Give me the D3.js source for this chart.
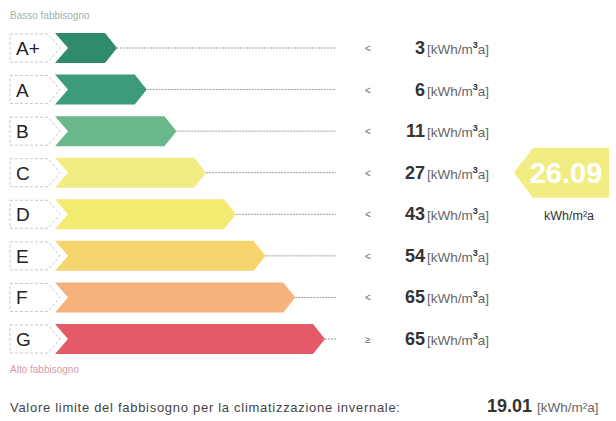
<!DOCTYPE html>
<html>
<head>
<meta charset="utf-8">
<script src="https://cdn.jsdelivr.net/npm/d3@7"></script>
<style>
  body { margin:0; background:#fff; }
  svg { font-family: "Liberation Sans", Arial, sans-serif; }
</style>
</head>
<body>
<svg id="chart"></svg>
<script>
// classi energetiche
const classes = ["A+", "A", "B", "C", "D", "E", "F", "G"];
const limits = [3, 6, 11, 27, 43, 54, 65, 65];
const signs = ["<", "<", "<", "<", "<", "<", "<", "\u2265"];
const colors = ["#2f8a6e", "#3d9b79", "#6bb78c", "#f1ed82", "#f3ea72", "#f6d46e", "#f5b27c", "#e55a68"];
const current = 26.09;
const currentClass = "C";
const limitValue = 19.01;

const width = 616, height = 421;
const svg = d3.select("#chart").attr("width", width).attr("height", height);

const yc = d3.scalePoint().domain(classes).range([48, 339]);
const tip = d3.scaleLinear().domain([0, classes.length - 1]).range([117, 325]);
const barH = 30;

svg.append("text").attr("x", 10).attr("y", 19).attr("font-size", 10)
  .attr("fill", "#9bb5a8").text("Basso fabbisogno");

const row = svg.selectAll("g.row").data(classes).join("g")
  .attr("class", "row")
  .attr("transform", d => "translate(0," + (yc(d) - barH / 2) + ")");

// label box
row.append("path")
  .attr("d", "M10,1 L48,1 L60," + barH / 2 + " L48," + (barH - 1) + " L10," + (barH - 1) + " Z")
  .attr("fill", "#fff").attr("stroke", "#c8c8c8").attr("stroke-width", 1)
  .attr("stroke-dasharray", "3,2");

row.append("text").attr("x", 16).attr("y", barH / 2 + 7)
  .attr("font-size", 19).attr("fill", "#222").text(d => d);

// arrow bar
row.append("path")
  .attr("d", (d, i) => {
    const t = tip(i), h = barH;
    return "M55,0 L" + (t - 12) + ",0 L" + t + "," + h / 2 + " L" + (t - 12) + "," + h +
      " L55," + h + " L68," + h / 2 + " Z";
  })
  .attr("fill", (d, i) => colors[i]);

// dotted line
row.append("line")
  .attr("x1", (d, i) => tip(i)).attr("x2", 336)
  .attr("y1", barH / 2).attr("y2", barH / 2)
  .attr("stroke", "#9a9aa8").attr("stroke-width", 1).attr("stroke-dasharray", "2,1");

row.append("text").attr("x", 365).attr("y", barH / 2 + 4)
  .attr("font-size", 10).attr("fill", "#666").text((d, i) => signs[i]);

row.append("text").attr("x", 425).attr("y", barH / 2 + 6)
  .attr("text-anchor", "end").attr("font-size", 18).attr("font-weight", "bold")
  .attr("fill", "#333").text((d, i) => limits[i]);

const unit = row.append("text").attr("x", 427).attr("y", barH / 2 + 6)
  .attr("font-size", 13.5).attr("fill", "#666");
unit.append("tspan").text("[kWh/m");
unit.append("tspan").attr("dy", -6).attr("font-size", 9).attr("font-weight", "bold").attr("fill", "#333").text("3");
unit.append("tspan").attr("dy", 6).text("a]");

svg.append("text").attr("x", 10).attr("y", 373).attr("font-size", 10)
  .attr("fill", "#d89aa8").text("Alto fabbisogno");

// indicatore valore attuale
const cy = yc(currentClass);
const ci = classes.indexOf(currentClass);
svg.append("path")
  .attr("d", "M514," + cy + " L533," + (cy - 25) + " L609," + (cy - 25) + " L609," + (cy + 25) +
    " L533," + (cy + 25) + " Z")
  .attr("fill", colors[ci]);
svg.append("text").attr("x", 566).attr("y", cy + 10).attr("text-anchor", "middle")
  .attr("font-size", 29).attr("font-weight", "bold").attr("fill", "#fff")
  .text(d3.format(".2f")(current));
svg.append("text").attr("x", 569).attr("y", cy + 47).attr("text-anchor", "middle")
  .attr("font-size", 12.5).attr("fill", "#333").text("kWh/m\u00b2a");

// valore limite
svg.append("text").attr("x", 10).attr("y", 412).attr("font-size", 13)
  .attr("textLength", 390).attr("lengthAdjust", "spacing")
  .attr("fill", "#444").text("Valore limite del fabbisogno per la climatizzazione invernale:");
const lv = svg.append("text").attr("x", 487).attr("y", 412).attr("fill", "#333");
lv.append("tspan").attr("font-size", 18).attr("font-weight", "bold").text(d3.format(".2f")(limitValue));
lv.append("tspan").attr("dx", 5).attr("font-size", 13.5).attr("fill", "#666").text("[kWh/m\u00b2a]");
</script>
</body>
</html>
